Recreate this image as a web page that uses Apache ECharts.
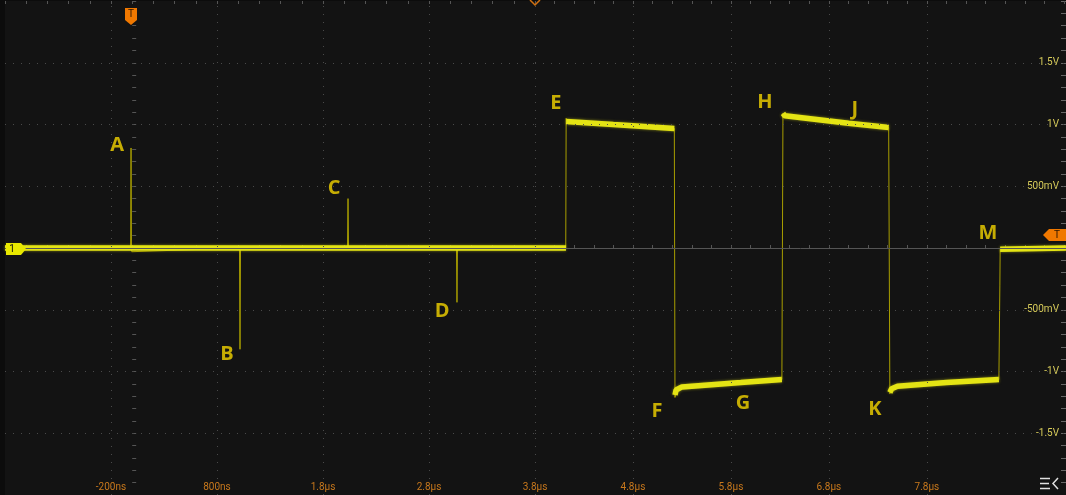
<!DOCTYPE html>
<html>
<head>
<meta charset="utf-8">
<script src="https://cdn.jsdelivr.net/npm/echarts@6/dist/echarts.min.js"></script>
<style>
  html, body { margin: 0; padding: 0; background: #0c0c0c; }
  #chart { width: 1066px; height: 495px; }
</style>
</head>
<body>
<div id="chart"></div>
<script>
// ---- Tick labels ----
const xTickValuesLeft = [-0.2, 0.8, 1.8, 2.8, 3.8];
const xTickLabelsLeft = ['-200ns', '800ns', '1.8µs', '2.8µs', '3.8µs'];
const xTickValuesRight = [4.8, 5.8, 6.8, 7.8];
const xTickLabelsRight = ['4.8µs', '5.8µs', '6.8µs', '7.8µs'];
const yTickValues = [1.5, 1, 0.5, -0.5, -1, -1.5];
const yTickLabels = ['1.5V', '1V', '500mV', '-500mV', '-1V', '-1.5V'];

// ---- Trace (time in µs, voltage in V) ----
const traceLeft = [
  [-1.2, 0], [-0.015, 0], [-0.011, 0.81], [-0.007, 0.02], [-0.004, -0.03],
  [1.012, 0], [1.017, -0.82], [1.022, 0],
  [2.031, 0], [2.036, 0.40], [2.041, 0],
  [3.059, 0], [3.064, -0.44], [3.069, 0],
  [3.8, 0]
];
const traceRight = [
  [3.8, 0], [4.114, 0], [4.118, 1.05], [4.125, 1.02], [5.222, 0.968],
  [5.229, -1.21], [5.24, -1.16], [5.30, -1.13], [6.32, -1.065],
  [6.331, 1.09], [6.35, 1.07], [7.41, 0.975],
  [7.422, -1.18], [7.44, -1.14], [7.50, -1.12], [8.535, -1.065],
  [8.545, -0.30], [8.548, -0.01], [9.22, 0]
];
// flat (noisy, thick) parts of the trace
const baseLeft = [[-1.2, 0], [3.8, 0]];
const baseRight1 = [[3.8, 0], [4.116, 0]];
const plateauE = [[4.118, 1.025], [4.6, 1.0], [5.222, 0.968]];
const plateauG = [[5.229, -1.19], [5.24, -1.15], [5.30, -1.125], [5.9, -1.09], [6.32, -1.065]];
const plateauH = [[6.331, 1.09], [6.35, 1.07], [7.0, 1.01], [7.41, 0.975]];
const plateauK = [[7.422, -1.17], [7.44, -1.14], [7.50, -1.12], [8.0, -1.09], [8.535, -1.065]];
const baseRight2 = [[8.548, -0.01], [9.22, 0]];

// ---- Annotations [letter, time µs, volts] ----
const notesLeft = [['A', -0.143, 0.83], ['B', 0.894, -0.863], ['C', 1.904, 0.484], ['D', 2.923, -0.516]];
const notesRight = [['E', 4.014, 1.169], ['F', 5.045, -1.323], ['G', 5.922, -1.258], ['H', 6.147, 1.177],
                    ['J', 7.065, 1.121], ['K', 7.269, -1.306], ['M', 8.422, 0.121]];

function joinSegments(segs) {
  const out = [];
  segs.forEach((s, i) => { if (i) out.push([null, null]); s.forEach(p => out.push(p)); });
  return out;
}
function lookup(vals, labels) {
  return v => { const i = vals.findIndex(t => Math.abs(t - v) < 1e-6); return i >= 0 ? labels[i] : ''; };
}

const chart = echarts.init(document.getElementById('chart'));
const GRID_DOT = { color: '#4a4a4a', width: 1, type: [1, 7] };
const TRACE = '#e4e414';
const NOTE = '#f4d400';

function xAxes(gi, min, max, vals, labels) {
  return [{
    type: 'value', gridIndex: gi, position: 'bottom', min, max, interval: 0.2,
    axisLine: { show: false },
    axisTick: { inside: true, length: 3, lineStyle: { color: '#555' } },
    axisLabel: { customValues: vals, inside: true, margin: 3, color: '#c8781c', fontSize: 10,
                 fontFamily: 'Roboto', formatter: lookup(vals, labels) },
    splitLine: { show: false }
  }, {
    type: 'value', gridIndex: gi, position: 'top', min, max, interval: 0.2,
    axisLine: { show: false },
    axisTick: { inside: true, length: 3, lineStyle: { color: '#555' } },
    axisLabel: { show: false }, splitLine: { show: false }
  }];
}

function gridLines(xi, yi, xVals) {
  return {
    type: 'line', xAxisIndex: xi, yAxisIndex: yi, data: [], silent: true,
    markLine: {
      silent: true, symbol: 'none', label: { show: false },
      lineStyle: GRID_DOT,
      data: xVals.map(v => ({ xAxis: v }))
        .concat(yTickValues.map(v => ({ yAxis: v })))
        .concat([{ yAxis: 0, lineStyle: { color: '#555', type: 'solid', width: 1 } }])
    }
  };
}

function noteSeries(xi, yi, notes) {
  return {
    type: 'scatter', xAxisIndex: xi, yAxisIndex: yi, symbolSize: 0, silent: true, z: 10,
    data: notes.map(n => ({ name: n[0], value: [n[1], n[2]] })),
    label: { show: true, position: 'inside', formatter: '{b}', color: NOTE, fontSize: 20,
             fontWeight: 'bold', fontFamily: 'Open Sans' }
  };
}

function thin(xi, yi, data) {
  return { type: 'line', xAxisIndex: xi, yAxisIndex: yi, data, showSymbol: false, silent: true,
           lineStyle: { color: '#a89e00', width: 1 }, z: 3 };
}
function thick(xi, yi, data) {
  return { type: 'line', xAxisIndex: xi, yAxisIndex: yi, data, showSymbol: false, silent: true,
           connectNulls: false,
           lineStyle: { color: TRACE, width: 5.5, shadowColor: 'rgba(230,230,20,0.55)', shadowBlur: 3 }, z: 4 };
}

const option = {
  animation: false,
  backgroundColor: '#0c0c0c',
  grid: [
    { left: 5, top: 1, width: 530, height: 496, show: true, backgroundColor: '#131313', borderWidth: 0 },
    { left: 535, top: 1, right: 0, height: 496, show: true, backgroundColor: '#131313', borderWidth: 0 }
  ],
  xAxis: [].concat(
    xAxes(0, -1.2, 3.8, xTickValuesLeft, xTickLabelsLeft),
    xAxes(1, 3.8, 9.22, xTickValuesRight, xTickLabelsRight)
  ),
  yAxis: [
    { type: 'value', gridIndex: 0, position: 'left', min: -2, max: 2, interval: 0.1,
      axisLine: { show: false }, axisTick: { inside: true, length: 4, lineStyle: { color: '#555' } },
      axisLabel: { show: false }, splitLine: { show: false } },
    { type: 'value', gridIndex: 1, position: 'right', min: -2, max: 2, interval: 0.1,
      axisLine: { show: false }, axisTick: { inside: true, length: 5, lineStyle: { color: '#666' } },
      axisLabel: { customValues: yTickValues, inside: true, margin: 7, color: '#d8cc5a', fontSize: 10,
                   fontFamily: 'Roboto', padding: [3, 0, 0, 0], formatter: lookup(yTickValues, yTickLabels) },
      splitLine: { show: false } }
  ],
  series: [
    gridLines(0, 0, xTickValuesLeft),
    gridLines(2, 1, [3.8].concat(xTickValuesRight)),
    thin(0, 0, traceLeft),
    thick(0, 0, baseLeft),
    thin(2, 1, traceRight),
    thick(2, 1, joinSegments([baseRight1, plateauE, plateauG, plateauH, plateauK, baseRight2])),
    noteSeries(0, 0, notesLeft),
    noteSeries(2, 1, notesRight)
  ],
  graphic: [
    { type: 'polygon', z: 100, shape: { points: [[6, 243], [21, 243], [26, 249], [21, 255], [6, 255]] },
      style: { fill: '#e8e800' } },
    { type: 'text', z: 101, style: { x: 12, y: 249, text: '1', fill: '#111', font: '10px Roboto',
      align: 'center', verticalAlign: 'middle' } },
    { type: 'polygon', z: 100, shape: { points: [[125, 8], [137, 8], [137, 20], [131, 25], [125, 20]] },
      style: { fill: '#f07800' } },
    { type: 'text', z: 101, style: { x: 131, y: 14.5, text: 'T', fill: '#2a1500', font: '10px Roboto',
      align: 'center', verticalAlign: 'middle' } },
    { type: 'polygon', z: 100, shape: { points: [[1049, 229], [1066, 229], [1066, 241], [1049, 241], [1043, 235]] },
      style: { fill: '#f07800' } },
    { type: 'text', z: 101, style: { x: 1057, y: 235, text: 'T', fill: '#2a1500', font: '10px Roboto',
      align: 'center', verticalAlign: 'middle' } },
    { type: 'polyline', z: 100, shape: { points: [[530, 0], [535, 5], [540, 0]] },
      style: { stroke: '#d07010', lineWidth: 1.5, fill: null } },
    { type: 'polyline', z: 100, shape: { points: [[1040, 478.5], [1050, 478.5]] }, style: { stroke: '#e0e0e0', lineWidth: 1.5 } },
    { type: 'polyline', z: 100, shape: { points: [[1040, 483.5], [1049, 483.5]] }, style: { stroke: '#e0e0e0', lineWidth: 1.5 } },
    { type: 'polyline', z: 100, shape: { points: [[1040, 488.5], [1050, 488.5]] }, style: { stroke: '#e0e0e0', lineWidth: 1.5 } },
    { type: 'polyline', z: 100, shape: { points: [[1058, 478], [1053, 483.5], [1058, 489]] },
      style: { stroke: '#e0e0e0', lineWidth: 1.5, fill: null } }
  ]
};
chart.setOption(option);
</script>
</body>
</html>
